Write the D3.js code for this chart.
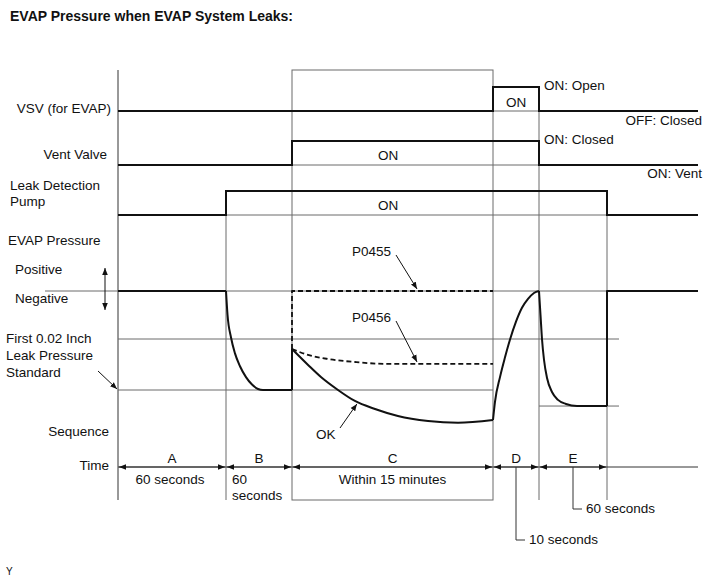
<!DOCTYPE html>
<html>
<head>
<meta charset="utf-8">
<script src="https://cdn.jsdelivr.net/npm/d3@7"></script>
<style>
  body { margin: 0; background: #fff; }
  text { font-family: "Liberation Sans", Arial, sans-serif; font-size: 13.5px; fill: #111; }
</style>
</head>
<body>
<div id="chart"></div>
<script>
const width = 713, height = 581;

// phases of the check, boundaries in phase units
const phases = ["A", "B", "C", "D", "E"];
const phaseTimes = ["60 seconds", "60 seconds", "Within 15 minutes", "10 seconds", "60 seconds"];
const bounds = [0, 1, 2, 3, 4, 5, 6];

// on/off state for each interval (last one is after E)
const vsvState  = [0, 0, 0, 1, 0, 0];
const ventState = [0, 0, 1, 1, 0, 0];
const pumpState = [0, 1, 1, 1, 1, 0];

// pressure traces [t, p]; p = -1 is the 0.02 inch leak standard
const pA = [[0, 0], [1, 0]];
const pB = [[1, 0], [1.023, -0.24], [1.076, -0.47], [1.136, -0.63], [1.212, -0.76], [1.303, -0.87], [1.394, -0.945], [1.485, -0.99], [1.56, -1], [2, -1]];
const pStepC = [[2, -1], [2, -0.586]];
const pOK = [[2, -0.586], [2.08, -0.747], [2.144, -0.869], [2.229, -1.0], [2.313, -1.111], [2.413, -1.192], [2.527, -1.263], [2.677, -1.313], [2.826, -1.33], [3, -1.303]];
const pD = [[3, -1.303], [3.043, -1.12], [3.152, -0.87], [3.261, -0.67], [3.37, -0.49], [3.5, -0.31], [3.63, -0.17], [3.761, -0.08], [3.891, -0.02], [4, 0]];
const pE = [[4, 0], [4.022, -0.24], [4.044, -0.485], [4.074, -0.697], [4.118, -0.879], [4.191, -1.02], [4.279, -1.1], [4.397, -1.141], [4.559, -1.162], [5, -1.162]];
const pStepF = [[5, -1.162], [5, 0], [6, 0]];
const pP0455 = [[2, -0.586], [2, 0], [3, 0]];
const pP0456 = [[2, -0.586], [2.08, -0.646], [2.179, -0.687], [2.313, -0.717], [2.478, -0.737], [3, -0.737]];

// gray reference levels [p, tStart, tEnd]
const refLevels = [[0, -1, 5.132], [-0.485, 0, 5.132], [-1, 0, 3], [-1.162, 4, 5.132]];

const svg = d3.select("#chart")
  .append("svg")
  .attr("width", width)
  .attr("height", height);

const x = d3.scaleLinear()
  .domain(bounds)
  .range([118, 226, 292, 493, 539, 607, 698]);

const y = d3.scaleLinear()
  .domain([0, -1])
  .range([291, 390]);

const gray = "#6a6a6a";
const topY = 70, bottomY = 500, timeY = 467;

svg.append("defs").append("marker")
  .attr("id", "arrow")
  .attr("viewBox", "0 0 10 10")
  .attr("refX", 10).attr("refY", 5)
  .attr("markerWidth", 7).attr("markerHeight", 7)
  .attr("markerUnits", "userSpaceOnUse")
  .attr("orient", "auto-start-reverse")
  .append("path")
  .attr("d", "M0,1L10,5L0,9Z")
  .attr("fill", "#111");

// title
svg.append("text")
  .text("EVAP Pressure when EVAP System Leaks:")
  .attr("x", 10).attr("y", 21)
  .style("font-size", "14px")
  .style("font-weight", 700);

svg.append("text").text("Y").attr("x", 6).attr("y", 575).style("font-size", "10px");

// frame: left axis, box around C, phase lines
const grid = svg.append("g").attr("stroke", gray).attr("stroke-width", 1).attr("fill", "none");
grid.append("line").attr("x1", x(0)).attr("x2", x(0)).attr("y1", topY).attr("y2", bottomY).attr("stroke", "#333");
grid.append("rect")
  .attr("x", x(2)).attr("y", topY)
  .attr("width", x(3) - x(2)).attr("height", bottomY - topY);
[[1, 190], [4, 87], [5, 190]].forEach(([t, y0]) => {
  grid.append("line").attr("x1", x(t)).attr("x2", x(t)).attr("y1", y0).attr("y2", bottomY);
});

refLevels.forEach(([p, t0, t1]) => {
  grid.append("line")
    .attr("x1", t0 < 0 ? 45 : x(t0)).attr("x2", x(t1))
    .attr("y1", y(p)).attr("y2", y(p));
});

// digital tracks
const tracks = [
  { state: vsvState, base: 111 },
  { state: ventState, base: 165 },
  { state: pumpState, base: 215 }
];
tracks.forEach(tr => {
  const ty = d3.scaleLinear().domain([0, 1]).range([tr.base, tr.base - 24]);
  const pts = tr.state.map((s, i) => [bounds[i], s]);
  pts.push([bounds[bounds.length - 1], tr.state[tr.state.length - 1]]);
  // gray baseline under the ON part
  tr.state.forEach((s, i) => {
    if (s === 1) {
      grid.append("line")
        .attr("x1", x(bounds[i])).attr("x2", x(bounds[i + 1]))
        .attr("y1", ty(0)).attr("y2", ty(0));
    }
  });
  svg.append("path")
    .attr("d", d3.line().x(d => x(d[0])).y(d => ty(d[1])).curve(d3.curveStepAfter)(pts))
    .attr("fill", "none").attr("stroke", "#111").attr("stroke-width", 2);
});

// pressure traces
const lin = d3.line().x(d => x(d[0])).y(d => y(d[1]));
const smooth = d3.line().x(d => x(d[0])).y(d => y(d[1])).curve(d3.curveMonotoneX);

const trace = svg.append("g").attr("fill", "none").attr("stroke", "#111").attr("stroke-width", 2)
  .attr("stroke-linejoin", "round");
trace.append("path").attr("d", lin(pP0455)).attr("stroke-dasharray", "5,3").attr("stroke-width", 1.8);
trace.append("path").attr("d", smooth(pP0456)).attr("stroke-dasharray", "5,3").attr("stroke-width", 1.8);
[pA, pStepC, pStepF].forEach(s => trace.append("path").attr("d", lin(s)));
[pB, pOK, pD, pE].forEach(s => trace.append("path").attr("d", smooth(s)));

// state labels
const labels = svg.append("g");
[["ON", x(3.5), 107, "middle"], ["ON", 388, 160, "middle"], ["ON", 388, 210, "middle"],
 ["ON: Open", 544, 90, "start"], ["OFF: Closed", 702, 125, "end"],
 ["ON: Closed", 544, 144, "start"], ["ON: Vent", 702, 178, "end"]]
  .forEach(([t, lx, ly, a]) => labels.append("text").text(t).attr("x", lx).attr("y", ly).attr("text-anchor", a));

// row labels on the left
[["VSV (for EVAP)", 111, 113, "end"], ["Vent Valve", 107, 159, "end"],
 ["Leak Detection", 10, 190, "start"], ["Pump", 10, 206, "start"],
 ["EVAP Pressure", 8, 245, "start"], ["Positive", 15, 274, "start"], ["Negative", 15, 303, "start"],
 ["First 0.02 Inch", 6, 343, "start"], ["Leak Pressure", 6, 360, "start"], ["Standard", 6, 377, "start"],
 ["Sequence", 109, 436, "end"], ["Time", 109, 470, "end"]]
  .forEach(([t, lx, ly, a]) => labels.append("text").text(t).attr("x", lx).attr("y", ly).attr("text-anchor", a));

// annotation arrows
const arrows = svg.append("g").attr("stroke", "#111").attr("stroke-width", 1);
arrows.append("line").attr("x1", 105).attr("y1", 289).attr("x2", 105).attr("y2", 268).attr("marker-end", "url(#arrow)");
arrows.append("line").attr("x1", 105).attr("y1", 289).attr("x2", 105).attr("y2", 310).attr("marker-end", "url(#arrow)");
arrows.append("line").attr("x1", 98).attr("y1", 371).attr("x2", x(0) - 1).attr("y2", y(-1) - 1).attr("marker-end", "url(#arrow)");

const notes = [["P0455", 2.622, 0, 352, 256], ["P0456", 2.622, -0.737, 352, 322], ["OK", 2.323, -1.12, 316, 439]];
notes.forEach(([t, tt, tp, lx, ly]) => {
  labels.append("text").text(t).attr("x", lx).attr("y", ly);
  const tail = t === "OK" ? [340, 428] : [396, ly - 1];
  arrows.append("line")
    .attr("x1", tail[0]).attr("y1", tail[1])
    .attr("x2", x(tt)).attr("y2", y(tp) + (t === "OK" ? 2 : -2))
    .attr("marker-end", "url(#arrow)");
});

// time axis
const axis = svg.append("g");
axis.append("line").attr("x1", x(0)).attr("x2", x(6)).attr("y1", timeY).attr("y2", timeY).attr("stroke", "#333");
phases.forEach((ph, i) => {
  const x0 = x(bounds[i]), x1 = x(bounds[i + 1]), mid = (x0 + x1) / 2;
  axis.append("line").attr("x1", mid).attr("x2", x0 + 1).attr("y1", timeY).attr("y2", timeY)
    .attr("stroke", "#333").attr("marker-end", "url(#arrow)");
  axis.append("line").attr("x1", mid).attr("x2", x1 - 1).attr("y1", timeY).attr("y2", timeY)
    .attr("stroke", "#333").attr("marker-end", "url(#arrow)");
  axis.append("text").text(ph).attr("x", mid).attr("y", timeY - 4).attr("text-anchor", "middle");
});

// durations
axis.append("text").text(phaseTimes[0]).attr("x", (x(0) + x(1)) / 2 - 2).attr("y", 484).attr("text-anchor", "middle");
const bText = axis.append("text").attr("x", x(1) + 6).attr("y", 484);
phaseTimes[1].split(" ").forEach((w, i) => bText.append("tspan").text(w).attr("x", x(1) + 6).attr("dy", i ? 16 : 0));
axis.append("text").text(phaseTimes[2]).attr("x", (x(2) + x(3)) / 2).attr("y", 484).attr("text-anchor", "middle");

[[3, 540, phaseTimes[3]], [4, 509, phaseTimes[4]]].forEach(([i, ly, t]) => {
  const mid = (x(bounds[i]) + x(bounds[i + 1])) / 2;
  axis.append("path")
    .attr("d", `M${mid},${timeY}V${ly}H${mid + 9}`)
    .attr("fill", "none").attr("stroke", "#333");
  axis.append("text").text(t).attr("x", mid + 13).attr("y", ly + 4);
});
</script>
</body>
</html>
